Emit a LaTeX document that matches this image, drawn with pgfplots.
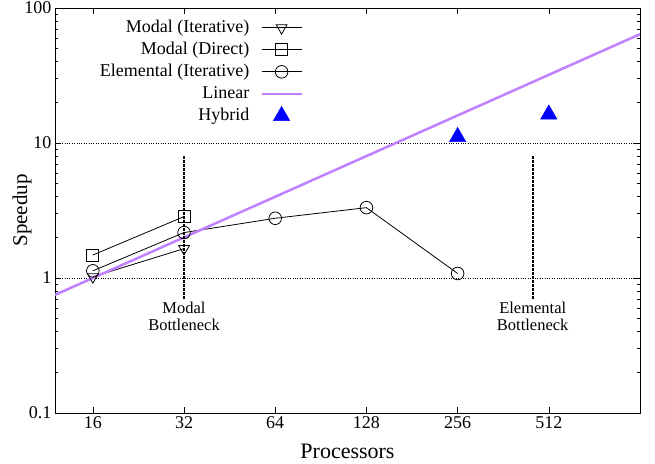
\documentclass[border=0pt]{standalone}
\usepackage{pgfplots}
\pgfplotsset{compat=1.18}
\usepackage{fontspec}
\setmainfont{Liberation Serif}
\definecolor{linpurple}{RGB}{192,128,255}
\begin{document}
\begin{tikzpicture}
\useasboundingbox (0,0) rectangle (655pt,463pt);
\begin{axis}[
 at={(55pt,50pt)}, anchor=south west,
 scale only axis, width=585pt, height=405pt,
 xmode=log, log basis x=2, ymode=log,
 xmin=12, xmax=1024, ymin=0.1, ymax=100,
 xtick={16,32,64,128,256,512}, xticklabels={16,32,64,128,256,512},
 ytick={0.1,1,10,100}, yticklabels={0.1,1,10,100},
 tick align=inside, major tick length=6pt, minor tick length=3.5pt,
 tick style={black, line width=0.6pt},
 ymajorgrids, major grid style={black, dotted, line width=0.6pt},
 axis line style={line width=0.8pt},
 xlabel={Processors}, ylabel={Speedup},
 xlabel style={at={(axis description cs:0.5,-0.094)}, anchor=center, font=\fontsize{22}{22}\selectfont},
 ylabel style={at={(axis description cs:-0.0564,0.5)}, anchor=center, font=\fontsize{21}{21}\selectfont},
 tick label style={font=\fontsize{18}{18}\selectfont},
 /pgf/number format/assume math mode=true,
 legend plot pos=right, legend cell align=right,
 legend style={draw=none, fill=none, inner sep=0pt, at={(0.424,0.975)}, anchor=north east,
   font=\fontsize{18}{18}\selectfont, row sep=3pt,
   nodes={inner sep=1pt, text height=13pt, text depth=4pt},
   /tikz/every odd column/.append style={column sep=10pt}},
 legend image code/.code={\draw[mark repeat=2,mark phase=2,#1] plot coordinates {(0pt,0pt) (20pt,0pt) (40pt,0pt)};},
]
\addplot[black, line width=0.8pt, mark=triangle, mark size=6.3pt, mark options={rotate=180, solid}]
 coordinates {(16,1.02) (32,1.65)};
\addlegendentry{Modal (Iterative)}
\addplot[black, line width=0.8pt, mark=square, mark size=6pt, mark options={solid}]
 coordinates {(16,1.48) (32,2.85)};
\addlegendentry{Modal (Direct)}
\addplot[black, line width=0.8pt, mark=o, mark size=6.3pt, mark options={solid}]
 coordinates {(16,1.13) (32,2.17) (64,2.77) (128,3.32) (256,1.08)};
\addlegendentry{Elemental (Iterative)}
\addplot[linpurple, line width=2.5pt, no marks]
 coordinates {(12,0.75) (1024,64)};
\addlegendentry{Linear}
\addplot[blue, only marks, mark=triangle*, mark size=9.5pt]
 coordinates {(256,11.1) (512,16.3)};
\addlegendentry{Hybrid}
\addplot[black, line width=2.3pt, dash pattern=on 2.5pt off 1.5pt, no marks, forget plot]
 coordinates {(32,0.7) (32,8)};
\addplot[black, line width=2.3pt, dash pattern=on 2.5pt off 1.5pt, no marks, forget plot]
 coordinates {(453,0.7) (453,8)};
\node[align=center, anchor=north, font=\fontsize{16.5}{17}\selectfont, inner sep=1pt] at (axis cs:32,0.68) {Modal\\Bottleneck};
\node[align=center, anchor=north, font=\fontsize{16.5}{17}\selectfont, inner sep=1pt] at (axis cs:453,0.68) {Elemental\\Bottleneck};
\end{axis}
\end{tikzpicture}
\end{document}
